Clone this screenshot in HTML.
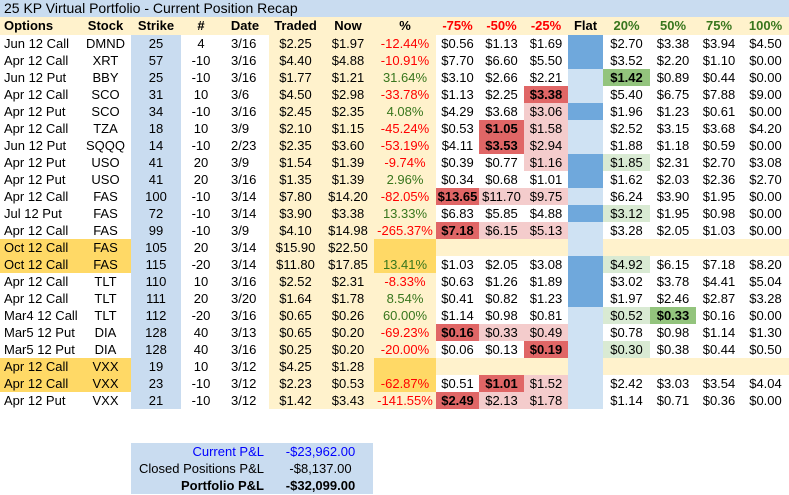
<!DOCTYPE html>
<html><head><meta charset="utf-8">
<style>
body{margin:0;width:789px;height:495px;background:#fff;overflow:hidden;font-family:"Liberation Sans",Arial,sans-serif;font-size:13px;color:#000;position:relative}
.c{position:absolute;height:17px;line-height:17px;text-align:center;white-space:nowrap;box-sizing:border-box}
.l{text-align:left;padding-left:4px}
.b{font-weight:bold}
</style></head><body>
<div id="root"></div>
<script>
const options=["Jun 12 Call","Apr 12 Call","Jun 12 Put","Apr 12 Call","Apr 12 Put","Apr 12 Call","Jun 12 Put","Apr 12 Put","Apr 12 Put","Apr 12 Call","Jul 12 Put","Apr 12 Call","Oct 12 Call","Oct 12 Call","Apr 12 Call","Apr 12 Call","Mar4 12 Call","Mar5 12 Put","Mar5 12 Put","Apr 12 Call","Apr 12 Call","Apr 12 Put"];
const stocks=["DMND","XRT","BBY","SCO","SCO","TZA","SQQQ","USO","USO","FAS","FAS","FAS","FAS","FAS","TLT","TLT","TLT","DIA","DIA","VXX","VXX","VXX"];
const strikes=[25,57,25,31,34,18,14,41,41,100,72,99,105,115,110,111,112,128,128,19,23,21];
const qty=[4,-10,-10,10,-10,10,-10,20,20,-10,-10,-10,20,-20,10,20,-20,40,40,10,-10,-10];
const dates=["3/16","3/16","3/16","3/6","3/16","3/9","2/23","3/9","3/16","3/14","3/14","3/9","3/14","3/14","3/16","3/20","3/16","3/13","3/16","3/12","3/12","3/12"];
const traded=["$2.25","$4.40","$1.77","$4.50","$2.45","$2.10","$2.35","$1.54","$1.35","$7.80","$3.90","$4.10","$15.90","$11.80","$2.52","$1.64","$0.65","$0.65","$0.25","$4.25","$2.23","$1.42"];
const now=["$1.97","$4.88","$1.21","$2.98","$2.35","$1.15","$3.60","$1.39","$1.39","$14.20","$3.38","$14.98","$22.50","$17.85","$2.31","$1.78","$0.26","$0.20","$0.20","$1.28","$0.53","$3.43"];
const pct=["-12.44%","-10.91%","31.64%","-33.78%","4.08%","-45.24%","-53.19%","-9.74%","2.96%","-82.05%","13.33%","-265.37%","","13.41%","-8.33%","8.54%","60.00%","-69.23%","-20.00%","","-62.87%","-141.55%"];
const scen=[
["$0.56","$1.13","$1.69","","$2.70","$3.38","$3.94","$4.50"],
["$7.70","$6.60","$5.50","","$3.52","$2.20","$1.10","$0.00"],
["$3.10","$2.66","$2.21","","$1.42","$0.89","$0.44","$0.00"],
["$1.13","$2.25","$3.38","","$5.40","$6.75","$7.88","$9.00"],
["$4.29","$3.68","$3.06","","$1.96","$1.23","$0.61","$0.00"],
["$0.53","$1.05","$1.58","","$2.52","$3.15","$3.68","$4.20"],
["$4.11","$3.53","$2.94","","$1.88","$1.18","$0.59","$0.00"],
["$0.39","$0.77","$1.16","","$1.85","$2.31","$2.70","$3.08"],
["$0.34","$0.68","$1.01","","$1.62","$2.03","$2.36","$2.70"],
["$13.65","$11.70","$9.75","","$6.24","$3.90","$1.95","$0.00"],
["$6.83","$5.85","$4.88","","$3.12","$1.95","$0.98","$0.00"],
["$7.18","$6.15","$5.13","","$3.28","$2.05","$1.03","$0.00"],
["","","","","","","",""],
["$1.03","$2.05","$3.08","","$4.92","$6.15","$7.18","$8.20"],
["$0.63","$1.26","$1.89","","$3.02","$3.78","$4.41","$5.04"],
["$0.41","$0.82","$1.23","","$1.97","$2.46","$2.87","$3.28"],
["$1.14","$0.98","$0.81","","$0.52","$0.33","$0.16","$0.00"],
["$0.16","$0.33","$0.49","","$0.78","$0.98","$1.14","$1.30"],
["$0.06","$0.13","$0.19","","$0.30","$0.38","$0.44","$0.50"],
["","","","","","","",""],
["$0.51","$1.01","$1.52","","$2.42","$3.03","$3.54","$4.04"],
["$2.49","$2.13","$1.78","","$1.14","$0.71","$0.36","$0.00"]];
const hl=["...B....","...B....","...bG...","..Rb....","..rB....",".Rrb....",".Rrb....","..rBg...","...B....","Rrrb....","...Bg...","Rrrb....","yyybyyyy","...Bg...","...B....","...B....","...bgG..","Rrrb....","..Rbg...","yyybyyyy",".Rrb....","Rrrb...."];
const orangeRows=[12,13,19,20];
const headers=["Options","Stock","Strike","#","Date","Traded","Now","%","-75%","-50%","-25%","Flat","20%","50%","75%","100%"];
const colX=[0,80,131,181,221,269,322,374,436,479,524,568,603,650,696,742,789];
const colors={R:"#e06666",r:"#f4cccc",G:"#93c47d",g:"#d9ead3",B:"#6fa8dc",b:"#cfe2f3",y:"#fff2cc"};
const root=document.getElementById('root');
function cell(x,y,w,h,txt,bg,cls,color){
  const d=document.createElement('div');
  d.className='c '+(cls||'');
  d.style.left=x+'px';d.style.top=y+'px';d.style.width=w+'px';d.style.height=h+'px';d.style.lineHeight=h+'px';
  if(bg)d.style.background=bg;
  if(color)d.style.color=color;
  d.textContent=txt;
  root.appendChild(d);return d;
}
// title
let t=cell(0,0,789,17,"25 KP Virtual Portfolio - Current Position Recap","#c9dcf0","l");
t.style.fontSize='14px';


// header row
const hcol=["#000","#000","#000","#000","#000","#000","#000","#000","#ff0000","#ff0000","#ff0000","#000","#38761d","#38761d","#38761d","#38761d"];
for(let i=0;i<16;i++){
  const h=cell(colX[i],17,colX[i+1]-colX[i],18,headers[i],"#fff2cc",(i==0?'l ':'')+'b',hcol[i]);
  
  
}
for(let r=0;r<options.length;r++){
  const y=35+r*17;
  const orange=orangeRows.includes(r);
  const vals=[options[r],stocks[r],String(strikes[r]),String(qty[r]),dates[r],traded[r],now[r],pct[r]].concat(scen[r]);
  for(let i=0;i<16;i++){
    let bg=null,cls='',color=null;
    if(i==0){cls='l';if(orange)bg="#ffd966";}
    if(i==1&&orange)bg="#ffd966";
    if(i==2)bg="#c9dcf0";
    if(i==5||i==6)bg="#fff2cc";
    if(i==7){bg=orange?"#ffd966":"#fff2cc";color=pct[r].startsWith('-')?"#ff0000":"#38761d";}
    if(i==4){cls='l';}
    if(i>=8){
      const k=hl[r][i-8];
      if(colors[k])bg=colors[k];
      if(k=='R'||k=='G')cls='b';
    }
    const d=cell(colX[i],y,colX[i+1]-colX[i],17,vals[i],bg,cls,color);
    if(i==4)d.style.paddingLeft='10px';
    
    
  }
}
// summary
const sumLabels=["Current P&L","Closed Positions P&L","Portfolio P&L"];
const sumVals=["-$23,962.00","-$8,137.00","-$32,099.00"];
const box=document.createElement('div');
box.style.cssText='position:absolute;left:131px;top:443px;width:242px;height:51px;background:#c9dcf0';


root.appendChild(box);
for(let i=0;i<3;i++){
  const col=i==0?"#0000ff":"#000";
  const a=cell(131,443+i*17,137,17,sumLabels[i],null,i==2?'b':'',col);
  a.style.textAlign='right';a.style.paddingRight='4px';
  
  
  const b=cell(268,443+i*17,105,17,sumVals[i],null,i==2?'b':'',col);
  
  
}
</script>
</body></html>
